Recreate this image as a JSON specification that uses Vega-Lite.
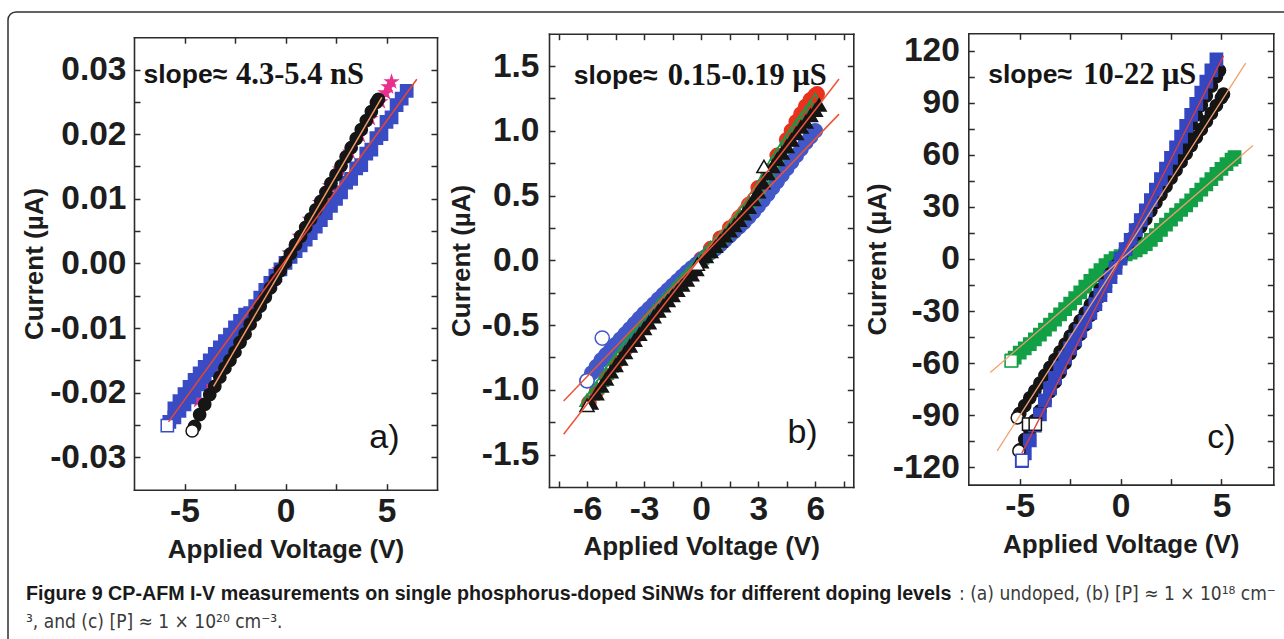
{
"$schema": "https://vega.github.io/schema/vega-lite/v6.json",
"background": "white",
"padding": {"left": 8, "top": 12, "right": 0, "bottom": 0},
"width": 1300,
"height": 645,
"view": {"stroke": "#303030", "strokeWidth": 1.5, "cornerRadius": 8, "fill": "white"},
"config": {
  "axis": {"domain": true, "domainColor": "#2b2b2b", "domainWidth": 1.6, "domainCap": "square", "grid": false, "labelFont": "Liberation Sans", "labelFontWeight": "bold", "labelFontSize": 33.5, "labelColor": "#1d1d1d", "titleFont": "Liberation Sans", "titleFontWeight": "bold", "titleFontSize": 26, "titleColor": "#1d1d1d", "tickColor": "#2b2b2b", "tickWidth": 1.5, "tickSize": -6, "labelOverlap": false, "labelFlush": false, "labelBound": false},
  "axisX": {"labelPadding": 12, "titlePadding": 8},
  "axisY": {"labelPadding": 14}
},
"datasets": {
  "pa": [
    {"s":"aP","v":-4.3,"i":-0.0212},{"s":"aP","v":-3.8,"i":-0.0188},{"s":"aP","v":-3.3,"i":-0.0163},{"s":"aP","v":-2.8,"i":-0.0138},{"s":"aP","v":-2.3,"i":-0.0113},{"s":"aP","v":-1.8,"i":-0.0088},{"s":"aP","v":-1.3,"i":-0.0062},{"s":"aP","v":-0.8,"i":-0.0036},{"s":"aP","v":-0.3,"i":-0.001},{"s":"aP","v":0.2,"i":0.0016},{"s":"aP","v":0.7,"i":0.0042},{"s":"aP","v":1.2,"i":0.0068},{"s":"aP","v":1.7,"i":0.0094},{"s":"aP","v":2.2,"i":0.012},{"s":"aP","v":2.7,"i":0.0146},{"s":"aP","v":3.2,"i":0.0172},{"s":"aP","v":3.7,"i":0.0198},{"s":"aP","v":4.2,"i":0.0224},{"s":"aP","v":4.7,"i":0.025},{"s":"aP","v":4.95,"i":0.0264},{"s":"aP","v":5.1,"i":0.0273},{"s":"aP","v":5.25,"i":0.0281},
    {"s":"aB","v":-5.5,"i":-0.0224},{"s":"aB","v":-5.25,"i":-0.0213},{"s":"aB","v":-5,"i":-0.0202},{"s":"aB","v":-4.75,"i":-0.0191},{"s":"aB","v":-4.5,"i":-0.018},{"s":"aB","v":-4.25,"i":-0.017},{"s":"aB","v":-4,"i":-0.016},{"s":"aB","v":-3.75,"i":-0.015},{"s":"aB","v":-3.5,"i":-0.014},{"s":"aB","v":-3.25,"i":-0.013},{"s":"aB","v":-3,"i":-0.012},{"s":"aB","v":-2.75,"i":-0.011},{"s":"aB","v":-2.5,"i":-0.0099},{"s":"aB","v":-2.25,"i":-0.0089},{"s":"aB","v":-2,"i":-0.0079},
    {"s":"aB","v":-5.75,"i":-0.0245},{"s":"aB","v":-5.5,"i":-0.0238},{"s":"aB","v":-5.25,"i":-0.0228},{"s":"aB","v":-5,"i":-0.0218},{"s":"aB","v":-4.75,"i":-0.0207},{"s":"aB","v":-4.5,"i":-0.0197},{"s":"aB","v":-4.25,"i":-0.0187},{"s":"aB","v":-4,"i":-0.0176},{"s":"aB","v":-3.75,"i":-0.0165},{"s":"aB","v":-3.5,"i":-0.0154},{"s":"aB","v":-3.25,"i":-0.0143},{"s":"aB","v":-3,"i":-0.0132},{"s":"aB","v":-2.75,"i":-0.0121},{"s":"aB","v":-2.5,"i":-0.011},{"s":"aB","v":-2.25,"i":-0.0099},{"s":"aB","v":-2,"i":-0.0088},{"s":"aB","v":-1.75,"i":-0.0077},{"s":"aB","v":-1.5,"i":-0.0066},{"s":"aB","v":-1.25,"i":-0.0053},{"s":"aB","v":-1,"i":-0.0041},{"s":"aB","v":-0.75,"i":-0.003},{"s":"aB","v":-0.5,"i":-0.0019},{"s":"aB","v":-0.25,"i":-0.0009},{"s":"aB","v":0,"i":0.0001},{"s":"aB","v":0.25,"i":0.001},{"s":"aB","v":0.5,"i":0.0019},{"s":"aB","v":0.75,"i":0.0028},{"s":"aB","v":1,"i":0.0037},{"s":"aB","v":1.25,"i":0.0047},{"s":"aB","v":1.5,"i":0.0057},{"s":"aB","v":1.75,"i":0.0067},{"s":"aB","v":2,"i":0.0078},{"s":"aB","v":2.25,"i":0.0089},{"s":"aB","v":2.5,"i":0.01},{"s":"aB","v":2.75,"i":0.011},{"s":"aB","v":3,"i":0.0125},{"s":"aB","v":3.25,"i":0.0131},{"s":"aB","v":3.5,"i":0.0147},{"s":"aB","v":3.75,"i":0.0152},{"s":"aB","v":4,"i":0.017},{"s":"aB","v":4.25,"i":0.0176},{"s":"aB","v":4.5,"i":0.0194},{"s":"aB","v":4.75,"i":0.02},{"s":"aB","v":5,"i":0.0219},{"s":"aB","v":5.25,"i":0.0226},{"s":"aB","v":5.5,"i":0.0245},{"s":"aB","v":5.75,"i":0.0255},{"s":"aB","v":6,"i":0.0267},
    {"s":"aK","v":-4.5,"i":-0.0252},{"s":"aK","v":-4.25,"i":-0.0234},{"s":"aK","v":-4,"i":-0.0218},{"s":"aK","v":-3.75,"i":-0.0203},{"s":"aK","v":-3.5,"i":-0.019},{"s":"aK","v":-3.25,"i":-0.0176},{"s":"aK","v":-3,"i":-0.0162},{"s":"aK","v":-2.75,"i":-0.015},{"s":"aK","v":-2.5,"i":-0.0137},{"s":"aK","v":-2.25,"i":-0.0122},{"s":"aK","v":-2,"i":-0.0109},{"s":"aK","v":-1.75,"i":-0.0094},{"s":"aK","v":-1.5,"i":-0.008},{"s":"aK","v":-1.25,"i":-0.0066},{"s":"aK","v":-1,"i":-0.0052},{"s":"aK","v":-0.75,"i":-0.0038},{"s":"aK","v":-0.5,"i":-0.0025},{"s":"aK","v":-0.25,"i":-0.0011},{"s":"aK","v":0,"i":0.0002},{"s":"aK","v":0.25,"i":0.0015},{"s":"aK","v":0.5,"i":0.0029},{"s":"aK","v":0.75,"i":0.0042},{"s":"aK","v":1,"i":0.0056},{"s":"aK","v":1.25,"i":0.0069},{"s":"aK","v":1.5,"i":0.0083},{"s":"aK","v":1.75,"i":0.0096},{"s":"aK","v":2,"i":0.011},{"s":"aK","v":2.25,"i":0.0124},{"s":"aK","v":2.5,"i":0.0137},{"s":"aK","v":2.75,"i":0.0151},{"s":"aK","v":3,"i":0.0165},{"s":"aK","v":3.25,"i":0.0179},{"s":"aK","v":3.5,"i":0.0193},{"s":"aK","v":3.75,"i":0.0207},{"s":"aK","v":4,"i":0.0221},{"s":"aK","v":4.25,"i":0.0235},{"s":"aK","v":4.5,"i":0.0249},{"s":"aK","v":4.6,"i":0.0254},
    {"s":"aKo","v":-4.62,"i":-0.0259},{"s":"aBo","v":-5.85,"i":-0.0251}
  ],
  "pb": [
    {"s":"bR","v":-5.9,"i":-1.1},{"s":"bR","v":-5.5,"i":-1.01},{"s":"bR","v":-5,"i":-0.895},{"s":"bR","v":-4.5,"i":-0.79},{"s":"bR","v":-4,"i":-0.69},{"s":"bR","v":-3.5,"i":-0.595},{"s":"bR","v":-3,"i":-0.505},{"s":"bR","v":-2.5,"i":-0.415},{"s":"bR","v":-2,"i":-0.33},{"s":"bR","v":-1.5,"i":-0.25},{"s":"bR","v":-1,"i":-0.17},{"s":"bR","v":-0.5,"i":-0.09},{"s":"bR","v":0,"i":0.01},{"s":"bR","v":0.5,"i":0.09},{"s":"bR","v":1,"i":0.17},{"s":"bR","v":1.5,"i":0.25},{"s":"bR","v":2,"i":0.33},{"s":"bR","v":2.5,"i":0.43},{"s":"bR","v":3,"i":0.56},{"s":"bR","v":3.5,"i":0.69},{"s":"bR","v":4,"i":0.81},{"s":"bR","v":4.5,"i":0.93},{"s":"bR","v":4.75,"i":1.0},{"s":"bR","v":5,"i":1.07},{"s":"bR","v":5.25,"i":1.13},{"s":"bR","v":5.5,"i":1.19},{"s":"bR","v":5.75,"i":1.24},{"s":"bR","v":6,"i":1.275},{"s":"bR","v":6.1,"i":1.285},
    {"s":"bB","v":-6,"i":-0.93},{"s":"bB","v":-5.75,"i":-0.87},{"s":"bB","v":-5.5,"i":-0.82},{"s":"bB","v":-5.25,"i":-0.77},{"s":"bB","v":-5,"i":-0.73},{"s":"bB","v":-4.75,"i":-0.69},{"s":"bB","v":-4.5,"i":-0.65},{"s":"bB","v":-4.25,"i":-0.61},{"s":"bB","v":-4,"i":-0.57},{"s":"bB","v":-3.75,"i":-0.53},{"s":"bB","v":-3.5,"i":-0.49},{"s":"bB","v":-3.25,"i":-0.45},{"s":"bB","v":-3,"i":-0.41},{"s":"bB","v":-2.75,"i":-0.375},{"s":"bB","v":-2.5,"i":-0.34},{"s":"bB","v":-2.25,"i":-0.3},{"s":"bB","v":-2,"i":-0.265},{"s":"bB","v":-1.75,"i":-0.23},{"s":"bB","v":-1.5,"i":-0.195},{"s":"bB","v":-1.25,"i":-0.16},{"s":"bB","v":-1,"i":-0.125},{"s":"bB","v":-0.75,"i":-0.09},{"s":"bB","v":-0.5,"i":-0.06},{"s":"bB","v":-0.25,"i":-0.03},{"s":"bB","v":0,"i":0},{"s":"bB","v":0.25,"i":0.03},{"s":"bB","v":0.5,"i":0.06},{"s":"bB","v":0.75,"i":0.09},{"s":"bB","v":1,"i":0.12},{"s":"bB","v":1.25,"i":0.155},{"s":"bB","v":1.5,"i":0.19},{"s":"bB","v":1.75,"i":0.225},{"s":"bB","v":2,"i":0.26},{"s":"bB","v":2.25,"i":0.295},{"s":"bB","v":2.5,"i":0.335},{"s":"bB","v":2.75,"i":0.375},{"s":"bB","v":3,"i":0.42},{"s":"bB","v":3.25,"i":0.465},{"s":"bB","v":3.5,"i":0.51},{"s":"bB","v":3.75,"i":0.56},{"s":"bB","v":4,"i":0.61},{"s":"bB","v":4.25,"i":0.66},{"s":"bB","v":4.5,"i":0.71},{"s":"bB","v":4.75,"i":0.76},{"s":"bB","v":5,"i":0.81},{"s":"bB","v":5.25,"i":0.86},{"s":"bB","v":5.5,"i":0.91},{"s":"bB","v":5.75,"i":0.955},{"s":"bB","v":6,"i":1.0},
    {"s":"bG","v":-6,"i":-1.08},{"s":"bG","v":-5.75,"i":-1.03},{"s":"bG","v":-5.5,"i":-0.98},{"s":"bG","v":-5.25,"i":-0.925},{"s":"bG","v":-5,"i":-0.87},{"s":"bG","v":-4.75,"i":-0.815},{"s":"bG","v":-4.5,"i":-0.76},{"s":"bG","v":-4.25,"i":-0.71},{"s":"bG","v":-4,"i":-0.66},{"s":"bG","v":-3.75,"i":-0.61},{"s":"bG","v":-3.5,"i":-0.565},{"s":"bG","v":-3.25,"i":-0.52},{"s":"bG","v":-3,"i":-0.475},{"s":"bG","v":-2.75,"i":-0.43},{"s":"bG","v":-2.5,"i":-0.39},{"s":"bG","v":-2.25,"i":-0.345},{"s":"bG","v":-2,"i":-0.305},{"s":"bG","v":-1.75,"i":-0.265},{"s":"bG","v":-1.5,"i":-0.225},{"s":"bG","v":-1.25,"i":-0.185},{"s":"bG","v":-1,"i":-0.145},{"s":"bG","v":-0.75,"i":-0.105},{"s":"bG","v":-0.5,"i":-0.065},{"s":"bG","v":-0.25,"i":-0.025},{"s":"bG","v":0,"i":0.02},{"s":"bG","v":0.25,"i":0.06},{"s":"bG","v":0.5,"i":0.1},{"s":"bG","v":0.75,"i":0.14},{"s":"bG","v":1,"i":0.18},{"s":"bG","v":1.25,"i":0.22},{"s":"bG","v":1.5,"i":0.265},{"s":"bG","v":1.75,"i":0.31},{"s":"bG","v":2,"i":0.355},{"s":"bG","v":2.25,"i":0.405},{"s":"bG","v":2.5,"i":0.455},{"s":"bG","v":2.75,"i":0.51},{"s":"bG","v":3,"i":0.565},{"s":"bG","v":3.25,"i":0.63},{"s":"bG","v":3.5,"i":0.695},{"s":"bG","v":3.75,"i":0.76},{"s":"bG","v":4,"i":0.82},{"s":"bG","v":4.25,"i":0.875},{"s":"bG","v":4.5,"i":0.93},{"s":"bG","v":4.75,"i":0.985},{"s":"bG","v":5,"i":1.04},{"s":"bG","v":5.25,"i":1.09},{"s":"bG","v":5.5,"i":1.14},{"s":"bG","v":5.75,"i":1.19},{"s":"bG","v":6,"i":1.24},
    {"s":"bK","v":-5.8,"i":-1.1},{"s":"bK","v":-5.5,"i":-1.03},{"s":"bK","v":-5.25,"i":-0.97},{"s":"bK","v":-5,"i":-0.915},{"s":"bK","v":-4.75,"i":-0.86},{"s":"bK","v":-4.5,"i":-0.81},{"s":"bK","v":-4.25,"i":-0.76},{"s":"bK","v":-4,"i":-0.71},{"s":"bK","v":-3.75,"i":-0.66},{"s":"bK","v":-3.5,"i":-0.615},{"s":"bK","v":-3.25,"i":-0.57},{"s":"bK","v":-3,"i":-0.525},{"s":"bK","v":-2.75,"i":-0.48},{"s":"bK","v":-2.5,"i":-0.435},{"s":"bK","v":-2.25,"i":-0.39},{"s":"bK","v":-2,"i":-0.35},{"s":"bK","v":-1.75,"i":-0.31},{"s":"bK","v":-1.5,"i":-0.27},{"s":"bK","v":-1.25,"i":-0.23},{"s":"bK","v":-1,"i":-0.19},{"s":"bK","v":-0.75,"i":-0.15},{"s":"bK","v":-0.5,"i":-0.11},{"s":"bK","v":-0.25,"i":-0.07},{"s":"bK","v":0,"i":-0.01},{"s":"bK","v":0.25,"i":0.03},{"s":"bK","v":0.5,"i":0.07},{"s":"bK","v":0.75,"i":0.11},{"s":"bK","v":1,"i":0.15},{"s":"bK","v":1.25,"i":0.19},{"s":"bK","v":1.5,"i":0.23},{"s":"bK","v":1.75,"i":0.27},{"s":"bK","v":2,"i":0.31},{"s":"bK","v":2.25,"i":0.36},{"s":"bK","v":2.5,"i":0.41},{"s":"bK","v":2.75,"i":0.47},{"s":"bK","v":3,"i":0.53},{"s":"bK","v":3.25,"i":0.6},{"s":"bK","v":3.5,"i":0.67},{"s":"bK","v":3.75,"i":0.725},{"s":"bK","v":4,"i":0.78},{"s":"bK","v":4.25,"i":0.83},{"s":"bK","v":4.5,"i":0.88},{"s":"bK","v":4.75,"i":0.93},{"s":"bK","v":5,"i":0.98},{"s":"bK","v":5.25,"i":1.03},{"s":"bK","v":5.5,"i":1.07},{"s":"bK","v":5.75,"i":1.12},{"s":"bK","v":6,"i":1.16},{"s":"bK","v":6.2,"i":1.2},
    {"s":"bBo","v":-6,"i":-0.93},{"s":"bBo","v":-5.2,"i":-0.6},{"s":"bKo","v":-6,"i":-1.12},{"s":"bKo","v":-0.2,"i":-0.03},{"s":"bKo","v":3.3,"i":0.725}
  ],
  "pc": [
    {"s":"cG","v":-5.4,"i":-58.5},{"s":"cG","v":-5.25,"i":-56.8},{"s":"cG","v":-5,"i":-54},{"s":"cG","v":-4.75,"i":-51.5},{"s":"cG","v":-4.5,"i":-49},{"s":"cG","v":-4.25,"i":-46.4},{"s":"cG","v":-4,"i":-43.6},{"s":"cG","v":-3.75,"i":-40.7},{"s":"cG","v":-3.5,"i":-37.8},{"s":"cG","v":-3.25,"i":-34.9},{"s":"cG","v":-3,"i":-31.9},{"s":"cG","v":-2.75,"i":-28.9},{"s":"cG","v":-2.5,"i":-25.8},{"s":"cG","v":-2.25,"i":-22.6},{"s":"cG","v":-2,"i":-19.3},{"s":"cG","v":-1.75,"i":-16},{"s":"cG","v":-1.5,"i":-12.7},{"s":"cG","v":-1.25,"i":-9.5},{"s":"cG","v":-1,"i":-6.4},{"s":"cG","v":-0.75,"i":-3.6},{"s":"cG","v":-0.5,"i":-1.2},{"s":"cG","v":-0.25,"i":0.5},{"s":"cG","v":0,"i":1.6},{"s":"cG","v":0.25,"i":2.6},{"s":"cG","v":0.5,"i":3.7},{"s":"cG","v":0.75,"i":5},{"s":"cG","v":1,"i":6.6},{"s":"cG","v":1.25,"i":8.5},{"s":"cG","v":1.5,"i":11},{"s":"cG","v":1.75,"i":13.7},{"s":"cG","v":2,"i":16.8},{"s":"cG","v":2.25,"i":19.8},{"s":"cG","v":2.5,"i":22.7},{"s":"cG","v":2.75,"i":25.5},{"s":"cG","v":3,"i":28.2},{"s":"cG","v":3.25,"i":30.9},{"s":"cG","v":3.5,"i":33.8},{"s":"cG","v":3.75,"i":36.9},{"s":"cG","v":4,"i":40},{"s":"cG","v":4.25,"i":43},{"s":"cG","v":4.5,"i":46},{"s":"cG","v":4.75,"i":49},{"s":"cG","v":5,"i":51.9},{"s":"cG","v":5.25,"i":54.6},{"s":"cG","v":5.5,"i":57.2},{"s":"cG","v":5.65,"i":58.7},
    {"s":"cKA","v":-5,"i":-110},{"s":"cKA","v":-4.75,"i":-104},{"s":"cKA","v":-4.5,"i":-98.5},{"s":"cKA","v":-4.25,"i":-93},{"s":"cKA","v":-4,"i":-87.5},{"s":"cKA","v":-3.75,"i":-82},{"s":"cKA","v":-3.5,"i":-76.5},{"s":"cKA","v":-3.25,"i":-71},{"s":"cKA","v":-3,"i":-65.5},{"s":"cKA","v":-2.75,"i":-60},{"s":"cKA","v":-2.5,"i":-54.5},{"s":"cKA","v":-2.25,"i":-49},{"s":"cKA","v":-2,"i":-43.5},{"s":"cKA","v":-1.75,"i":-38},{"s":"cKA","v":-1.5,"i":-32.5},{"s":"cKA","v":-1.25,"i":-27},{"s":"cKA","v":-1,"i":-21.5},{"s":"cKA","v":-0.75,"i":-16},{"s":"cKA","v":-0.5,"i":-10.5},{"s":"cKA","v":-0.25,"i":-5},{"s":"cKA","v":0,"i":0.5},{"s":"cKA","v":0.25,"i":6},{"s":"cKA","v":0.5,"i":11.5},{"s":"cKA","v":0.75,"i":17},{"s":"cKA","v":1,"i":22.5},{"s":"cKA","v":1.25,"i":28},{"s":"cKA","v":1.5,"i":33.5},{"s":"cKA","v":1.75,"i":39},{"s":"cKA","v":2,"i":44.5},{"s":"cKA","v":2.25,"i":50},{"s":"cKA","v":2.5,"i":55.5},{"s":"cKA","v":2.75,"i":61},{"s":"cKA","v":3,"i":66.5},{"s":"cKA","v":3.25,"i":72},{"s":"cKA","v":3.5,"i":77.5},{"s":"cKA","v":3.75,"i":83},{"s":"cKA","v":4,"i":88.5},{"s":"cKA","v":4.25,"i":94},{"s":"cKA","v":4.5,"i":99.5},{"s":"cKA","v":4.75,"i":105},{"s":"cKA","v":4.9,"i":108.5},
    {"s":"cKB","v":-5.1,"i":-91},{"s":"cKB","v":-5,"i":-89},{"s":"cKB","v":-4.75,"i":-84.5},{"s":"cKB","v":-4.5,"i":-80},{"s":"cKB","v":-4.25,"i":-76},{"s":"cKB","v":-4,"i":-71.5},{"s":"cKB","v":-3.75,"i":-67},{"s":"cKB","v":-3.5,"i":-62.5},{"s":"cKB","v":-3.25,"i":-58},{"s":"cKB","v":-3,"i":-53.5},{"s":"cKB","v":-2.75,"i":-49},{"s":"cKB","v":-2.5,"i":-44.5},{"s":"cKB","v":-2.25,"i":-40},{"s":"cKB","v":-2,"i":-35.5},{"s":"cKB","v":-1.75,"i":-31},{"s":"cKB","v":-1.5,"i":-26.5},{"s":"cKB","v":-1.25,"i":-22},{"s":"cKB","v":-1,"i":-17.5},{"s":"cKB","v":-0.75,"i":-13},{"s":"cKB","v":-0.5,"i":-8.5},{"s":"cKB","v":-0.25,"i":-4},{"s":"cKB","v":0,"i":0.5},{"s":"cKB","v":0.25,"i":5},{"s":"cKB","v":0.5,"i":9.5},{"s":"cKB","v":0.75,"i":14},{"s":"cKB","v":1,"i":18.5},{"s":"cKB","v":1.25,"i":23},{"s":"cKB","v":1.5,"i":27.7},{"s":"cKB","v":1.75,"i":32.4},{"s":"cKB","v":2,"i":37.1},{"s":"cKB","v":2.25,"i":41.8},{"s":"cKB","v":2.5,"i":46.5},{"s":"cKB","v":2.75,"i":51.2},{"s":"cKB","v":3,"i":55.9},{"s":"cKB","v":3.25,"i":60.6},{"s":"cKB","v":3.5,"i":65.3},{"s":"cKB","v":3.75,"i":70},{"s":"cKB","v":4,"i":74.6},{"s":"cKB","v":4.25,"i":79.2},{"s":"cKB","v":4.5,"i":83.8},{"s":"cKB","v":4.75,"i":88.4},{"s":"cKB","v":5,"i":93},{"s":"cKB","v":5.1,"i":95},
    {"s":"cB","v":-4.9,"i":-116.5},{"s":"cB","v":-4.75,"i":-112},{"s":"cB","v":-4.5,"i":-104.5},{"s":"cB","v":-4.25,"i":-96},{"s":"cB","v":-4,"i":-89.5},{"s":"cB","v":-3.75,"i":-81.5},{"s":"cB","v":-3.5,"i":-74.5},{"s":"cB","v":-3.25,"i":-68.5},{"s":"cB","v":-3,"i":-62.5},{"s":"cB","v":-2.75,"i":-56.8},{"s":"cB","v":-2.5,"i":-51.5},{"s":"cB","v":-2.25,"i":-46.5},{"s":"cB","v":-2,"i":-41.5},{"s":"cB","v":-1.75,"i":-36.3},{"s":"cB","v":-1.5,"i":-31},{"s":"cB","v":-1.25,"i":-26},{"s":"cB","v":-1,"i":-20.8},{"s":"cB","v":-0.75,"i":-15.6},{"s":"cB","v":-0.5,"i":-10.4},{"s":"cB","v":-0.25,"i":-5.2},{"s":"cB","v":0,"i":0.2},{"s":"cB","v":0.25,"i":5.6},{"s":"cB","v":0.5,"i":11},{"s":"cB","v":0.75,"i":16.6},{"s":"cB","v":1,"i":22.3},{"s":"cB","v":1.25,"i":28},{"s":"cB","v":1.5,"i":33.9},{"s":"cB","v":1.75,"i":40},{"s":"cB","v":2,"i":46},{"s":"cB","v":2.25,"i":52.1},{"s":"cB","v":2.5,"i":58.2},{"s":"cB","v":2.75,"i":64.3},{"s":"cB","v":3,"i":70.5},{"s":"cB","v":3.25,"i":76.7},{"s":"cB","v":3.5,"i":83},{"s":"cB","v":3.75,"i":89.4},{"s":"cB","v":4,"i":95.8},{"s":"cB","v":4.25,"i":102.2},{"s":"cB","v":4.5,"i":108.6},{"s":"cB","v":4.75,"i":115},
    {"s":"cGo","v":-5.42,"i":-58.7},{"s":"cKo","v":-5.12,"i":-91.5},{"s":"cKo","v":-5.04,"i":-110.6},{"s":"cSo","v":-4.56,"i":-95.2},{"s":"cSo","v":-4.23,"i":-95.2},{"s":"cBo","v":-4.88,"i":-116}
  ],
  "la": [{"f":"a1","v":-5.79,"i":-0.0245},{"f":"a1","v":6.5,"i":0.0285},{"f":"a2","v":-3.56,"i":-0.019},{"f":"a2","v":4.77,"i":0.0257}],
  "lb": [{"f":"b1","v":-7.23,"i":-1.343},{"f":"b1","v":7.25,"i":1.4},{"f":"b2","v":-7.23,"i":-1.086},{"f":"b2","v":7.25,"i":1.129}],
  "lc": [{"f":"c1","v":-6.46,"i":-65.4},{"f":"c1","v":6.56,"i":65.4},{"f":"c2","v":-6.12,"i":-110.6},{"f":"c2","v":6.2,"i":112.8},{"f":"c3","v":-4.9,"i":-112},{"f":"c3","v":5.1,"i":117}]
},
"layer": [
  {
    "data": {"name": "pa"},
    "encoding": {
      "x": {"field": "v", "type": "quantitative", "scale": {"domain": [-7.5, 7.5], "range": [126, 429], "nice": false, "zero": false}, "axis": {"orient": "bottom", "offset": -167.3, "values": [-5, -2.5, 0, 2.5, 5], "labelExpr": "datum.value % 5 === 0 ? (datum.value < 0 ? '-' : '') + abs(datum.value) : ''", "title": "Applied Voltage (V)"}},
      "y": {"field": "i", "type": "quantitative", "scale": {"domain": [-0.035, 0.035], "range": [477.7, 25.2], "nice": false, "zero": false}, "axis": {"orient": "left", "offset": -126, "values": [-0.03, -0.025, -0.02, -0.015, -0.01, -0.005, 0, 0.005, 0.01, 0.015, 0.02, 0.025, 0.03], "labelExpr": "abs(round(datum.value*1000)) % 10 === 0 ? (datum.value < -0.001 ? '-' : '') + format(abs(datum.value), '.2f') : ''", "title": "Current (µA)", "titlePadding": 2}}
    },
    "layer": [
      {"mark": {"type": "point", "filled": true, "size": 150, "strokeWidth": 1.5, "opacity": 1},
       "encoding": {
         "shape": {"field": "s", "type": "nominal", "legend": null, "scale": {"domain": ["aP", "aB", "aK", "aKo", "aBo"], "range": ["M0,-1L0.225,-0.31L0.95,-0.31L0.36,0.12L0.59,0.81L0,0.38L-0.59,0.81L-0.36,0.12L-0.95,-0.31L-0.225,-0.31Z", "square", "circle", "circle", "square"]}},
         "fill": {"field": "s", "type": "nominal", "legend": null, "scale": {"domain": ["aP", "aB", "aK", "aKo", "aBo"], "range": ["#e8308c", "#3a4cc4", "#161616", "#ffffff", "#ffffff"]}},
         "stroke": {"field": "s", "type": "nominal", "legend": null, "scale": {"domain": ["aP", "aB", "aK", "aKo", "aBo"], "range": ["#e8308c", "#3a4cc4", "#161616", "#161616", "#3a4cc4"]}}
       }},
      {"data": {"name": "la"}, "mark": {"type": "line", "strokeWidth": 1.5},
       "encoding": {"detail": {"field": "f"}, "color": {"field": "f", "type": "nominal", "legend": null, "scale": {"domain": ["a1", "a2"], "range": ["#e9452f", "#f59a66"]}}}}
    ]
  },
  {
    "data": {"values": [{"v": 0, "i": 0}]},
    "mark": {"type": "point", "opacity": 0},
    "encoding": {
      "x": {"field": "v", "type": "quantitative", "scale": {"domain": [-7.5, 7.5], "range": [126, 429], "nice": false, "zero": false}, "axis": {"orient": "top", "offset": -25.2, "values": [-5, -2.5, 0, 2.5, 5], "labels": false, "title": null}},
      "y": {"field": "i", "type": "quantitative", "scale": {"domain": [-0.035, 0.035], "range": [477.7, 25.2], "nice": false, "zero": false}, "axis": {"orient": "right", "offset": -871, "values": [-0.03, -0.025, -0.02, -0.015, -0.01, -0.005, 0, 0.005, 0.01, 0.015, 0.02, 0.025, 0.03], "labels": false, "title": null}}
    }
  },
  {
    "data": {"values": [{}]},
    "layer": [
      {"mark": {"type": "text", "text": "slope≈", "align": "left", "baseline": "middle", "font": "Liberation Sans", "fontWeight": "bold", "fontSize": 26.5, "color": "#151515"},
       "encoding": {"x": {"datum": -7.03, "type": "quantitative", "scale": {"domain": [-7.5, 7.5], "range": [126, 429], "nice": false, "zero": false}, "axis": null}, "y": {"datum": 0.0291, "type": "quantitative", "scale": {"domain": [-0.035, 0.035], "range": [477.7, 25.2], "nice": false, "zero": false}, "axis": null}}},
      {"mark": {"type": "text", "text": "4.3-5.4 nS", "align": "left", "baseline": "middle", "font": "Liberation Serif", "fontWeight": "bold", "fontSize": 30.5, "color": "#151515"},
       "encoding": {"x": {"datum": -2.45, "type": "quantitative", "scale": {"domain": [-7.5, 7.5], "range": [126, 429], "nice": false, "zero": false}, "axis": null}, "y": {"datum": 0.0291, "type": "quantitative", "scale": {"domain": [-0.035, 0.035], "range": [477.7, 25.2], "nice": false, "zero": false}, "axis": null}}},
      {"mark": {"type": "text", "text": "a)", "align": "center", "baseline": "middle", "font": "Liberation Sans", "fontSize": 34, "color": "#151515"},
       "encoding": {"x": {"datum": 4.9, "type": "quantitative", "scale": {"domain": [-7.5, 7.5], "range": [126, 429], "nice": false, "zero": false}, "axis": null}, "y": {"datum": -0.027, "type": "quantitative", "scale": {"domain": [-0.035, 0.035], "range": [477.7, 25.2], "nice": false, "zero": false}, "axis": null}}}
    ]
  },
  {
    "data": {"name": "pb"},
    "encoding": {
      "x": {"field": "v", "type": "quantitative", "scale": {"domain": [-8, 8], "range": [541, 845.3], "nice": false, "zero": false}, "axis": {"orient": "bottom", "offset": -170, "values": [-7.5, -6, -4.5, -3, -1.5, 0, 1.5, 3, 4.5, 6, 7.5], "labelExpr": "datum.value % 3 === 0 ? (datum.value < 0 ? '-' : '') + abs(datum.value) : ''", "title": "Applied Voltage (V)"}},
      "y": {"field": "i", "type": "quantitative", "scale": {"domain": [-1.75, 1.75], "range": [475, 21.7], "nice": false, "zero": false}, "axis": {"orient": "left", "offset": -541, "values": [-1.5, -1.25, -1, -0.75, -0.5, -0.25, 0, 0.25, 0.5, 0.75, 1, 1.25, 1.5], "labelExpr": "abs(round(datum.value*100)) % 50 === 0 ? (datum.value < -0.01 ? '-' : '') + format(abs(datum.value), '.1f') : ''", "title": "Current (µA)", "titlePadding": 7, "labelPadding": 16}}
    },
    "layer": [
      {"mark": {"type": "point", "filled": true, "size": 200, "strokeWidth": 1.5, "opacity": 1},
       "encoding": {
         "shape": {"field": "s", "type": "nominal", "legend": null, "scale": {"domain": ["bR", "bB", "bG", "bK", "bBo", "bKo"], "range": ["circle", "circle", "triangle-up", "triangle-up", "circle", "triangle-up"]}},
         "fill": {"field": "s", "type": "nominal", "legend": null, "scale": {"domain": ["bR", "bB", "bG", "bK", "bBo", "bKo"], "range": ["#e8321e", "#4358c8", "transparent", "#151515", "#ffffff", "#ffffff"]}},
         "stroke": {"field": "s", "type": "nominal", "legend": null, "scale": {"domain": ["bR", "bB", "bG", "bK", "bBo", "bKo"], "range": ["#e8321e", "#4358c8", "#1a9a48", "#151515", "#4358c8", "#151515"]}}
       }},
      {"data": {"name": "lb"}, "mark": {"type": "line", "strokeWidth": 1.5},
       "encoding": {"detail": {"field": "f"}, "color": {"field": "f", "type": "nominal", "legend": null, "scale": {"domain": ["b1", "b2"], "range": ["#ee5336", "#ee5336"]}}}}
    ]
  },
  {
    "data": {"values": [{"v": 0, "i": 0}]},
    "mark": {"type": "point", "opacity": 0},
    "encoding": {
      "x": {"field": "v", "type": "quantitative", "scale": {"domain": [-8, 8], "range": [541, 845.3], "nice": false, "zero": false}, "axis": {"orient": "top", "offset": -21.7, "values": [-7.5, -6, -4.5, -3, -1.5, 0, 1.5, 3, 4.5, 6, 7.5], "labels": false, "title": null}},
      "y": {"field": "i", "type": "quantitative", "scale": {"domain": [-1.75, 1.75], "range": [475, 21.7], "nice": false, "zero": false}, "axis": {"orient": "right", "offset": -454.7, "values": [-1.5, -1.25, -1, -0.75, -0.5, -0.25, 0, 0.25, 0.5, 0.75, 1, 1.25, 1.5], "labels": false, "title": null}}
    }
  },
  {
    "data": {"values": [{}]},
    "layer": [
      {"mark": {"type": "text", "text": "slope≈", "align": "left", "baseline": "middle", "font": "Liberation Sans", "fontWeight": "bold", "fontSize": 26.5, "color": "#151515"},
       "encoding": {"x": {"datum": -6.7, "type": "quantitative", "scale": {"domain": [-8, 8], "range": [541, 845.3], "nice": false, "zero": false}, "axis": null}, "y": {"datum": 1.42, "type": "quantitative", "scale": {"domain": [-1.75, 1.75], "range": [475, 21.7], "nice": false, "zero": false}, "axis": null}}},
      {"mark": {"type": "text", "text": "0.15-0.19 μS", "align": "left", "baseline": "middle", "font": "Liberation Serif", "fontWeight": "bold", "fontSize": 30.5, "color": "#151515"},
       "encoding": {"x": {"datum": -1.75, "type": "quantitative", "scale": {"domain": [-8, 8], "range": [541, 845.3], "nice": false, "zero": false}, "axis": null}, "y": {"datum": 1.42, "type": "quantitative", "scale": {"domain": [-1.75, 1.75], "range": [475, 21.7], "nice": false, "zero": false}, "axis": null}}},
      {"mark": {"type": "text", "text": "b)", "align": "center", "baseline": "middle", "font": "Liberation Sans", "fontSize": 34, "color": "#151515"},
       "encoding": {"x": {"datum": 5.33, "type": "quantitative", "scale": {"domain": [-8, 8], "range": [541, 845.3], "nice": false, "zero": false}, "axis": null}, "y": {"datum": -1.33, "type": "quantitative", "scale": {"domain": [-1.75, 1.75], "range": [475, 21.7], "nice": false, "zero": false}, "axis": null}}}
    ]
  },
  {
    "data": {"name": "pc"},
    "encoding": {
      "x": {"field": "v", "type": "quantitative", "scale": {"domain": [-7.55, 7.57], "range": [960.3, 1265.3], "nice": false, "zero": false}, "axis": {"orient": "bottom", "offset": -172.4, "values": [-5, -2.5, 0, 2.5, 5], "labelExpr": "datum.value % 5 === 0 ? (datum.value < 0 ? '-' : '') + abs(datum.value) : ''", "title": "Applied Voltage (V)"}},
      "y": {"field": "i", "type": "quantitative", "scale": {"domain": [-130, 130], "range": [472.6, 21.3], "nice": false, "zero": false}, "axis": {"orient": "left", "offset": -960.3, "values": [-120, -105, -90, -75, -60, -45, -30, -15, 0, 15, 30, 45, 60, 75, 90, 105, 120], "labelExpr": "datum.value % 30 === 0 ? (datum.value < 0 ? '-' : '') + abs(datum.value) : ''", "title": "Current (µA)", "titlePadding": 2, "labelPadding": 15}}
    },
    "layer": [
      {"mark": {"type": "point", "filled": true, "size": 150, "strokeWidth": 1.5, "opacity": 1},
       "encoding": {
         "shape": {"field": "s", "type": "nominal", "legend": null, "scale": {"domain": ["cG", "cKA", "cKB", "cB", "cGo", "cKo", "cSo", "cBo"], "range": ["square", "circle", "circle", "square", "square", "circle", "square", "square"]}},
         "fill": {"field": "s", "type": "nominal", "legend": null, "scale": {"domain": ["cG", "cKA", "cKB", "cB", "cGo", "cKo", "cSo", "cBo"], "range": ["#12a046", "#151515", "#151515", "#3446c0", "#ffffff", "#ffffff", "#ffffff", "#ffffff"]}},
         "stroke": {"field": "s", "type": "nominal", "legend": null, "scale": {"domain": ["cG", "cKA", "cKB", "cB", "cGo", "cKo", "cSo", "cBo"], "range": ["#12a046", "#151515", "#151515", "#3446c0", "#12a046", "#151515", "#151515", "#3446c0"]}}
       }},
      {"data": {"name": "lc"}, "mark": {"type": "line", "strokeWidth": 1.3},
       "encoding": {"detail": {"field": "f"}, "color": {"field": "f", "type": "nominal", "legend": null, "scale": {"domain": ["c1", "c2", "c3"], "range": ["#f2a06e", "#f2a06e", "#e23b3b"]}}}}
    ]
  },
  {
    "data": {"values": [{"v": 0, "i": 0}]},
    "mark": {"type": "point", "opacity": 0},
    "encoding": {
      "x": {"field": "v", "type": "quantitative", "scale": {"domain": [-7.55, 7.57], "range": [960.3, 1265.3], "nice": false, "zero": false}, "axis": {"orient": "top", "offset": -21.3, "values": [-5, -2.5, 0, 2.5, 5], "labels": false, "title": null}},
      "y": {"field": "i", "type": "quantitative", "scale": {"domain": [-130, 130], "range": [472.6, 21.3], "nice": false, "zero": false}, "axis": {"orient": "right", "offset": -34.7, "values": [-120, -105, -90, -75, -60, -45, -30, -15, 0, 15, 30, 45, 60, 75, 90, 105, 120], "labels": false, "title": null}}
    }
  },
  {
    "data": {"values": [{}]},
    "layer": [
      {"mark": {"type": "text", "text": "slope≈", "align": "left", "baseline": "middle", "font": "Liberation Sans", "fontWeight": "bold", "fontSize": 26.5, "color": "#151515"},
       "encoding": {"x": {"datum": -6.56, "type": "quantitative", "scale": {"domain": [-7.55, 7.57], "range": [960.3, 1265.3], "nice": false, "zero": false}, "axis": null}, "y": {"datum": 106, "type": "quantitative", "scale": {"domain": [-130, 130], "range": [472.6, 21.3], "nice": false, "zero": false}, "axis": null}}},
      {"mark": {"type": "text", "text": "10-22 μS", "align": "left", "baseline": "middle", "font": "Liberation Serif", "fontWeight": "bold", "fontSize": 30.5, "color": "#151515"},
       "encoding": {"x": {"datum": -1.85, "type": "quantitative", "scale": {"domain": [-7.55, 7.57], "range": [960.3, 1265.3], "nice": false, "zero": false}, "axis": null}, "y": {"datum": 106, "type": "quantitative", "scale": {"domain": [-130, 130], "range": [472.6, 21.3], "nice": false, "zero": false}, "axis": null}}},
      {"mark": {"type": "text", "text": "c)", "align": "center", "baseline": "middle", "font": "Liberation Sans", "fontSize": 34, "color": "#151515"},
       "encoding": {"x": {"datum": 5.0, "type": "quantitative", "scale": {"domain": [-7.55, 7.57], "range": [960.3, 1265.3], "nice": false, "zero": false}, "axis": null}, "y": {"datum": -103, "type": "quantitative", "scale": {"domain": [-130, 130], "range": [472.6, 21.3], "nice": false, "zero": false}, "axis": null}}}
    ]
  },
  {
    "data": {"values": [{}]},
    "layer": [
      {"mark": {"type": "text", "text": "Figure 9 CP-AFM I-V measurements on single phosphorus-doped SiNWs for different doping levels", "align": "left", "baseline": "middle", "font": "Liberation Sans", "fontWeight": "bold", "fontSize": 19.7, "color": "#1a1a1a"},
       "encoding": {"x": {"datum": 1.385, "type": "quantitative", "scale": {"domain": [0, 100], "nice": false, "zero": false}, "axis": null}, "y": {"datum": 90.16, "type": "quantitative", "scale": {"domain": [0, 100], "reverse": true, "nice": false, "zero": false}, "axis": null}}},
      {"mark": {"type": "text", "text": ": (a) undoped, (b) [P] ≈ 1 × 10¹⁸ cm⁻", "align": "left", "baseline": "middle", "font": "DejaVu Sans Condensed, Liberation Sans", "fontWeight": "normal", "fontSize": 19, "color": "#3a3a3a"},
       "encoding": {"x": {"datum": 73.15, "type": "quantitative", "scale": {"domain": [0, 100], "nice": false, "zero": false}, "axis": null}, "y": {"datum": 90.16, "type": "quantitative", "scale": {"domain": [0, 100], "reverse": true, "nice": false, "zero": false}, "axis": null}}},
      {"mark": {"type": "text", "text": "³, and (c) [P] ≈ 1 × 10²⁰ cm⁻³.", "align": "left", "baseline": "middle", "font": "DejaVu Sans Condensed, Liberation Sans", "fontWeight": "normal", "fontSize": 19, "color": "#3a3a3a"},
       "encoding": {"x": {"datum": 1.385, "type": "quantitative", "scale": {"domain": [0, 100], "nice": false, "zero": false}, "axis": null}, "y": {"datum": 94.5, "type": "quantitative", "scale": {"domain": [0, 100], "reverse": true, "nice": false, "zero": false}, "axis": null}}}
    ]
  }
],
"resolve": {"scale": {"x": "independent", "y": "independent", "shape": "independent", "fill": "independent", "stroke": "independent", "color": "independent"}}
}
